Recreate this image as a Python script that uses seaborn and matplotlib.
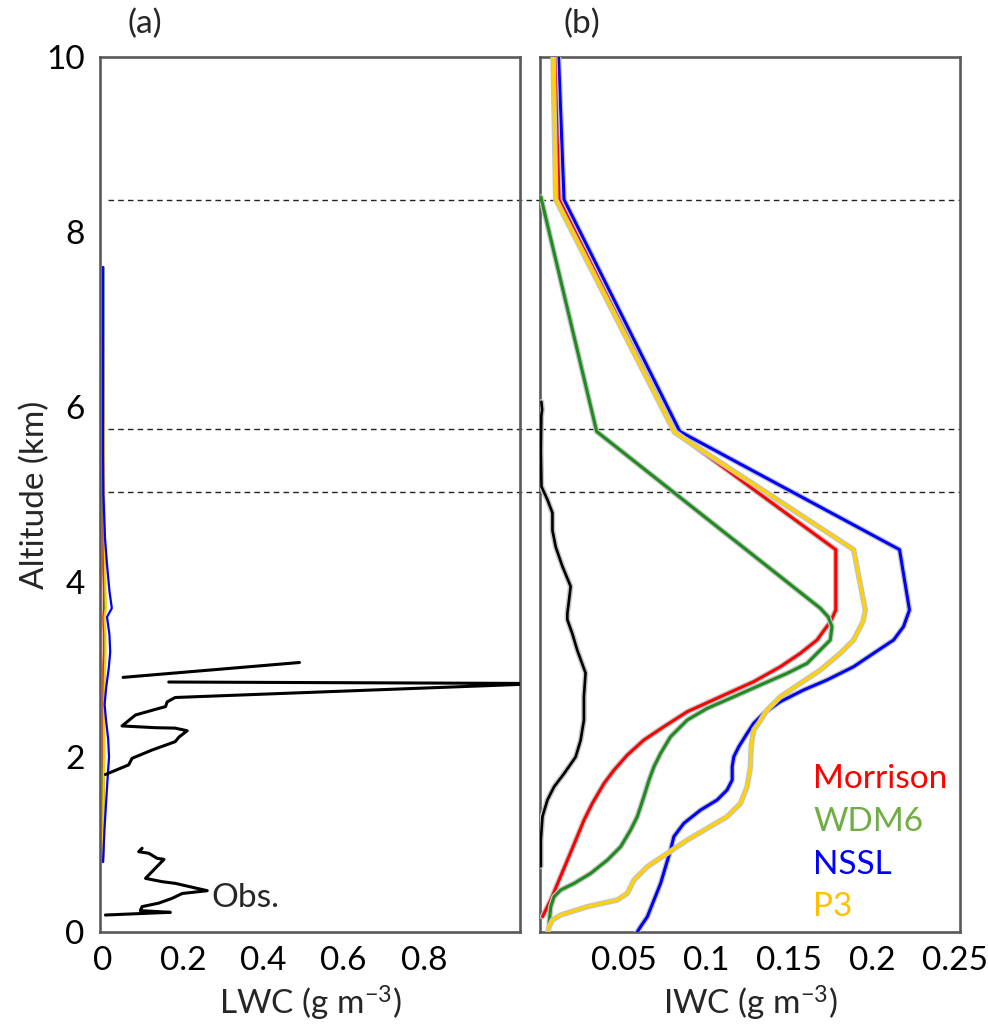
import numpy as np
import pandas as pd
import matplotlib
matplotlib.use("Agg")
import matplotlib.pyplot as plt
import matplotlib.patheffects as pe
import seaborn as sns

# ---------------- data: panel (a) LWC ----------------
obs_a_top_alt = [3.08, 2.91]
obs_a_top_val = [0.49, 0.05]
obs_a_mid_alt = [2.857, 2.84, 2.68, 2.63, 2.576, 2.55, 2.48, 2.355, 2.335, 2.33, 2.30,
                 2.23, 2.175, 2.08, 1.985, 1.91, 1.80]
obs_a_mid_val = [0.164, 1.10, 0.18, 0.16, 0.156, 0.135, 0.081, 0.0475, 0.13, 0.18, 0.21,
                 0.19, 0.18, 0.1225, 0.0725, 0.064, 0.006]
obs_a_low_alt = [0.957, 0.918, 0.90, 0.842, 0.83, 0.613, 0.575, 0.556, 0.472, 0.44,
                 0.385, 0.33, 0.29, 0.244, 0.225, 0.194]
obs_a_low_val = [0.0975, 0.089, 0.114, 0.135, 0.152, 0.106, 0.1475, 0.18, 0.26, 0.1975,
                 0.1725, 0.139, 0.0975, 0.093, 0.168, 0.006]

alt_a = [7.6, 7.0, 6.0, 5.5, 5.0, 4.5, 4.2, 3.9, 3.7, 3.6, 3.4, 3.2, 3.0, 2.8, 2.6, 2.4,
         2.2, 2.0, 1.8, 1.5, 1.2, 1.0, 0.8]
lwc_morrison = [0, 0, 0, 0, 0.001, 0.001, 0.001, 0.002, 0.002, 0.001, 0.002, 0.002, 0.001,
                0.001, 0.001, 0.001, 0.001, 0.001, 0.001, 0, 0, 0, 0]
lwc_wdm6 = [0.001, 0.001, 0.001, 0.001, 0.001, 0.002, 0.002, 0.003, 0.004, 0.002, 0.003,
            0.003, 0.002, 0.002, 0.002, 0.002, 0.002, 0.002, 0.001, 0.001, 0.001, 0.001, 0]
lwc_p3 = [0, 0, 0.001, 0.002, 0.003, 0.004, 0.005, 0.006, 0.007, 0.004, 0.006, 0.006,
          0.005, 0.004, 0.003, 0.003, 0.003, 0.003, 0.002, 0.001, 0.0005, 0, 0]
lwc_nssl = [0, 0, 0, 0, 0.001, 0.005, 0.01, 0.016, 0.022, 0.01, 0.016, 0.018, 0.014,
            0.008, 0.004, 0.008, 0.013, 0.015, 0.012, 0.008, 0.004, 0.002, 0]

# ---------------- data: panel (b) IWC ----------------
obs_b_alt = [6.06, 5.97, 5.90, 5.5, 5.09, 4.94, 4.79, 4.59, 4.40, 4.18, 3.95, 3.79, 3.64,
             3.57, 3.41, 3.22, 2.96, 2.69, 2.42, 2.19, 2.0, 1.81, 1.66, 1.51, 1.32, 1.05, 0.75]
obs_b_val = [0.0003, 0.0008, 0.0003, 0.0, 0.0004, 0.004, 0.007, 0.007, 0.009, 0.013, 0.018,
             0.017, 0.016, 0.016, 0.019, 0.022, 0.027, 0.026, 0.026, 0.024, 0.021, 0.014,
             0.008, 0.004, 0.001, 0.0, 0.0]

morrison_alt = [10.0, 8.37, 5.72, 4.37, 3.68, 3.55, 3.45, 3.337, 3.185, 3.032, 2.861,
                2.689, 2.518, 2.347, 2.194, 2.023, 1.851, 1.70, 1.471, 1.28, 1.051, 0.823,
                0.594, 0.366, 0.175]
morrison_iwc = [0.0084, 0.011, 0.0807, 0.178, 0.178, 0.175, 0.171, 0.1667, 0.1566, 0.1446,
                0.1285, 0.1084, 0.0884, 0.0743, 0.0622, 0.0522, 0.0442, 0.0382, 0.0311,
                0.0261, 0.0211, 0.0161, 0.011, 0.006, 0.001]

wdm6_alt = [8.40, 5.72, 3.70, 3.60, 3.49, 3.337, 3.223, 3.07, 2.956, 2.823, 2.689, 2.556,
            2.423, 2.232, 2.042, 1.89, 1.737, 1.547, 1.318, 1.166, 0.975, 0.823, 0.67,
            0.556, 0.48, 0.404, 0.29, 0.10]
wdm6_iwc = [0.0, 0.0337, 0.1687, 0.1735, 0.1757, 0.1747, 0.1687, 0.1607, 0.1486, 0.1325,
            0.1165, 0.1004, 0.0884, 0.0783, 0.0723, 0.0683, 0.0653, 0.0622, 0.0582,
            0.0542, 0.0482, 0.0402, 0.0301, 0.0201, 0.012, 0.008, 0.006, 0.005]

p3_alt = [10.0, 8.37, 5.71, 4.37, 3.68, 3.55, 3.337, 3.185, 2.994, 2.842, 2.689, 2.537,
          2.385, 2.309, 2.118, 1.89, 1.661, 1.47, 1.318, 1.185, 1.051, 0.899, 0.747,
          0.594, 0.442, 0.366, 0.29, 0.194, 0.137, 0.061, -0.03]
p3_iwc = [0.0074, 0.009, 0.0807, 0.1888, 0.1958, 0.1945, 0.1888, 0.1807, 0.1687, 0.1566,
          0.1446, 0.1365, 0.1315, 0.1285, 0.1269, 0.1265, 0.1245, 0.1205, 0.1124, 0.1004,
          0.0884, 0.0763, 0.0643, 0.0562, 0.0522, 0.0462, 0.0281, 0.012, 0.007, 0.005,
          0.004]

nssl_alt = [10.0, 8.37, 5.72, 4.37, 3.68, 3.49, 3.337, 3.185, 3.032, 2.88, 2.766, 2.633,
            2.499, 2.385, 2.27, 2.118, 2.004, 1.89, 1.737, 1.623, 1.509, 1.394, 1.242,
            1.09, 0.937, 0.747, 0.556, 0.366, 0.175, 0.061, -0.03]
nssl_iwc = [0.0107, 0.014, 0.0839, 0.2165, 0.2225, 0.2189, 0.2129, 0.2008, 0.1888, 0.1727,
            0.1586, 0.1446, 0.1345, 0.1285, 0.1245, 0.1195, 0.1165, 0.1155, 0.1155,
            0.1124, 0.1064, 0.0964, 0.0863, 0.0803, 0.0783, 0.0753, 0.0723, 0.0683,
            0.0643, 0.0602, 0.0572]

layer_alts = [8.37, 5.75, 5.03]
scheme_names = ["Morrison", "WDM6", "NSSL", "P3"]
scheme_text_colors = ["#ff0000", "#70ad47", "#0000ff", "#ffc000"]

# ---------------- style ----------------
sns.set_theme(style="white")
plt.rcParams["font.family"] = ["Lato", "DejaVu Sans"]
plt.rcParams["mathtext.default"] = "regular"

W, H = 988, 1029
fig = plt.figure(figsize=(W / 100, H / 100), dpi=100)
axa = fig.add_axes([100 / W, 1 - 932 / H, 420 / W, 875 / H])
axb = fig.add_axes([540 / W, 1 - 932 / H, 420 / W, 875 / H])

FS = 24
spine_col = "#595959"
for ax in (axa, axb):
    for s in ax.spines.values():
        s.set_color(spine_col)
        s.set_linewidth(1.9)
    ax.tick_params(length=0, labelsize=FS, colors="black")
    ax.set_ylim(0, 10)

halo = [pe.Stroke(linewidth=4.0, foreground="#c4c4c4"), pe.Normal()]

def line(ax, x, y, color, lw, effects=None, z=2):
    df = pd.DataFrame({"x": x, "y": y})
    sns.lineplot(data=df, x="x", y="y", sort=False, estimator=None, ax=ax,
                 color=color, lw=lw, path_effects=effects, zorder=z)

# ---- panel (a)
line(axa, lwc_morrison, alt_a, "#ff0000", 1.6)
line(axa, lwc_wdm6, alt_a, "#1e8c1e", 1.6)
line(axa, lwc_p3, alt_a, "#ffc800", 1.6)
line(axa, lwc_nssl, alt_a, "#0000ff", 1.6)
for xs, ys in [(obs_a_top_val, obs_a_top_alt), (obs_a_mid_val, obs_a_mid_alt),
               (obs_a_low_val, obs_a_low_alt)]:
    line(axa, xs, ys, "black", 2.2, z=3)
axa.text(0.27, 0.39, "Obs.", fontsize=FS, va="center", ha="left")
axa.set_xlim(-0.0075, 1.04)
axa.set_xticks([0, 0.2, 0.4, 0.6, 0.8])
axa.set_xticklabels(["0", "0.2", "0.4", "0.6", "0.8"])
axa.set_yticks([0, 2, 4, 6, 8, 10])
axa.set_yticklabels(["0", "2", "4", "6", "8", "10"])
axa.tick_params(axis="y", pad=11)
axa.tick_params(axis="x", pad=10)
axa.set_xlabel(r"LWC (g m$^{\mathregular{-3}}$)", fontsize=FS, labelpad=6)
axa.set_ylabel("Altitude (km)", fontsize=FS, labelpad=-3)
for a in layer_alts:
    axa.axhline(a, xmin=0.018, xmax=1.05, color="#222222", lw=1.0,
                ls=(0, (4, 3)), clip_on=False, zorder=1)

# ---- panel (b)
line(axb, obs_b_val, obs_b_alt, "black", 1.9, halo, z=3)
line(axb, nssl_iwc, nssl_alt, "#0000ff", 2.2, halo, z=4)
line(axb, morrison_iwc, morrison_alt, "#ff0000", 2.2, halo, z=5)
line(axb, wdm6_iwc, wdm6_alt, "#1e8c1e", 2.2, halo, z=6)
line(axb, p3_iwc, p3_alt, "#ffd200", 2.2, halo, z=7)
for a in layer_alts:
    axb.axhline(a, color="#222222", lw=1.0, ls=(0, (4, 3)), zorder=1)
axb.set_xlim(-0.0005, 0.253)
axb.set_xticks([0.05, 0.1, 0.15, 0.2, 0.25])
axb.set_xticklabels(["0.05", "0.1", "0.15", "0.2", "0.25"])
axb.set_yticks([])
axb.tick_params(axis="x", pad=10)
axb.set_xlabel(r"IWC (g m$^{\mathregular{-3}}$)", fontsize=FS, labelpad=6)
axb.set_ylabel("")

leg_y = [779, 822, 865, 907]
for name, col, yp in zip(scheme_names, scheme_text_colors, leg_y):
    fig.text(813 / W, 1 - yp / H, name, color=col, fontsize=FS, ha="left", va="center")

fig.text(145 / W, 1 - 24 / H, "(a)", fontsize=FS, ha="center", va="center")
fig.text(582 / W, 1 - 24 / H, "(b)", fontsize=FS, ha="center", va="center")

fig.savefig("out.png", dpi=100, facecolor="white")
